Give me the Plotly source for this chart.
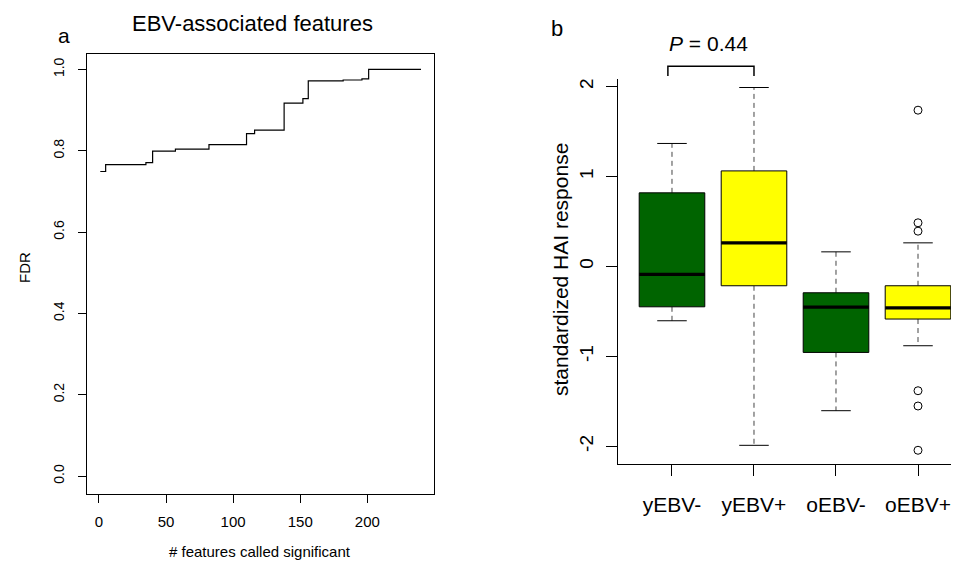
import plotly.graph_objects as go

# ---------------- data ----------------
# Panel a: step curve of FDR vs number of features called significant
n_features = [1, 5, 35, 40, 57, 82, 110, 116, 138, 152, 156, 182, 196, 201, 240]
fdr_values = [0.749, 0.766, 0.771, 0.799, 0.804, 0.815, 0.842, 0.851, 0.917,
              0.928, 0.972, 0.974, 0.977, 1.0, 1.0]
a_xticks = [0, 50, 100, 150, 200]
a_yticks = [0.0, 0.2, 0.4, 0.6, 0.8, 1.0]

# Panel b: box plot statistics
groups = ["yEBV-", "yEBV+", "oEBV-", "oEBV+"]
lower_whisker = [-0.604, -1.989, -1.604, -0.882]
q1 = [-0.449, -0.215, -0.956, -0.585]
median = [-0.089, 0.262, -0.452, -0.460]
q3 = [0.818, 1.062, -0.293, -0.215]
upper_whisker = [1.367, 1.989, 0.162, 0.262]
outliers = {"oEBV+": [1.737, 0.485, 0.392, -1.382, -1.552, -2.044]}
box_colors = ["#006400", "#FFFF00", "#006400", "#FFFF00"]
b_yticks = [-2, -1, 0, 1, 2]
bracket_groups = [0.95, 2.0]
bracket_levels = [2.114, 2.222]
p_text = "<i>P</i> = 0.44"

FONT = "Liberation Sans, Arial, sans-serif"
PAGE_W, PAGE_H = 959, 575
OFF = 8  # default page body margin
W, H = PAGE_W - OFF, PAGE_H - OFF

fig = go.Figure()

# ---------------- panel a ----------------
fig.add_trace(go.Scatter(
    x=n_features, y=fdr_values, mode="lines", line_shape="hv",
    line=dict(color="black", width=1.2), xaxis="x", yaxis="y",
    showlegend=False, hoverinfo="skip"))

# ---------------- panel b ----------------
hw = 0.4   # half box width
cw = 0.18  # half cap width
for i, g in enumerate(groups):
    xc = i + 1
    # whiskers (dashed)
    fig.add_trace(go.Scatter(
        x=[xc, xc, None, xc, xc],
        y=[q3[i], upper_whisker[i], None, q1[i], lower_whisker[i]],
        mode="lines", line=dict(color="#444444", width=1, dash="5px,4px"),
        xaxis="x2", yaxis="y2", showlegend=False, hoverinfo="skip"))
    # caps
    fig.add_trace(go.Scatter(
        x=[xc - cw, xc + cw, None, xc - cw, xc + cw],
        y=[upper_whisker[i], upper_whisker[i], None, lower_whisker[i], lower_whisker[i]],
        mode="lines", line=dict(color="black", width=1),
        xaxis="x2", yaxis="y2", showlegend=False, hoverinfo="skip"))
    # box
    fig.add_trace(go.Scatter(
        x=[xc - hw, xc + hw, xc + hw, xc - hw, xc - hw],
        y=[q1[i], q1[i], q3[i], q3[i], q1[i]],
        mode="lines", fill="toself", fillcolor=box_colors[i],
        line=dict(color="black", width=1), xaxis="x2", yaxis="y2",
        showlegend=False, hoverinfo="skip"))
    # median
    fig.add_trace(go.Scatter(
        x=[xc - hw, xc + hw], y=[median[i], median[i]], mode="lines",
        line=dict(color="black", width=3.2), xaxis="x2", yaxis="y2",
        showlegend=False, hoverinfo="skip"))
    # outliers
    if g in outliers:
        fig.add_trace(go.Scatter(
            x=[xc] * len(outliers[g]), y=outliers[g], mode="markers",
            marker=dict(symbol="circle-open", size=8, color="black",
                        line=dict(width=1)),
            xaxis="x2", yaxis="y2", showlegend=False, hoverinfo="skip"))

# significance bracket (on an invisible taller axis sharing the same scale)
fig.add_trace(go.Scatter(
    x=[bracket_groups[0], bracket_groups[0], bracket_groups[1], bracket_groups[1]],
    y=[bracket_levels[0], bracket_levels[1], bracket_levels[1], bracket_levels[0]],
    mode="lines", line=dict(color="black", width=1.5),
    xaxis="x2", yaxis="y3", showlegend=False, hoverinfo="skip"))

# ---------------- layout ----------------
def px_x(p):
    return (p - OFF) / W

def px_y(p):
    return 1 - (p - OFF) / H

axis_common = dict(showgrid=False, zeroline=False, showline=True,
                   linecolor="black", linewidth=1, ticks="outside",
                   tickcolor="black", tickwidth=1,
                   tickfont=dict(family=FONT, color="black"))

fig.update_layout(
    width=W, height=H, margin=dict(l=0, r=0, t=0, b=0),
    paper_bgcolor="white", plot_bgcolor="rgba(0,0,0,0)",
    font=dict(family=FONT, color="black"),
    xaxis=dict(**axis_common, domain=[px_x(87), px_x(434)], range=[-8.9, 249.7],
               tickvals=a_xticks, ticktext=[str(v) for v in a_xticks],
               ticklen=8, mirror=True, anchor="y",
               ticklabelstandoff=6, tickfont_size=15),
    yaxis=dict(**axis_common, domain=[px_y(493.5), px_y(54)], range=[-0.043, 1.038],
               tickvals=a_yticks, ticktext=[f"{v:.1f}" for v in a_yticks],
               ticklen=8, mirror=True, anchor="x", tickangle=-90,
               ticklabelstandoff=8, tickfont_size=14),
    xaxis2=dict(**axis_common, domain=[px_x(617.7), 1.0], range=[0.338, 4.5],
                tickvals=[1, 2, 3, 4], ticktext=groups, ticklen=11, anchor="y2",
                ticklabelstandoff=10, tickfont_size=21),
    yaxis2=dict(**axis_common, domain=[px_y(464.3), px_y(78.7)], range=[-2.2, 2.087],
                tickvals=b_yticks, ticktext=[str(v) for v in b_yticks],
                ticklen=11, anchor="x2", tickangle=-90,
                ticklabelstandoff=5, tickfont_size=19),
    yaxis3=dict(domain=[px_y(464.3), px_y(20)], range=[-2.2, (266.3 - 20) / 90],
                visible=False, anchor="x2", showgrid=False, zeroline=False),
)

annotations = [
    dict(text="EBV-associated features", x=px_x(252), y=px_y(23), xref="paper",
         yref="paper", showarrow=False, font=dict(size=22, family=FONT),
         xanchor="center", yanchor="middle"),
    dict(text="a", x=px_x(64), y=px_y(35), xref="paper", yref="paper",
         showarrow=False, font=dict(size=21, family=FONT),
         xanchor="center", yanchor="middle"),
    dict(text="FDR", x=px_x(24), y=px_y(268), xref="paper", yref="paper",
         showarrow=False, textangle=-90, font=dict(size=15, family=FONT),
         xanchor="center", yanchor="middle"),
    dict(text="# features called significant", x=px_x(260), y=px_y(551),
         xref="paper", yref="paper", showarrow=False,
         font=dict(size=15, family=FONT), xanchor="center", yanchor="middle"),
    dict(text="b", x=px_x(557), y=px_y(29), xref="paper", yref="paper",
         showarrow=False, font=dict(size=22, family=FONT),
         xanchor="center", yanchor="middle"),
    dict(text="standardized HAI response", x=px_x(560), y=px_y(270),
         xref="paper", yref="paper", showarrow=False, textangle=-90,
         font=dict(size=21, family=FONT), xanchor="center", yanchor="middle"),
    dict(text=p_text, x=1.45, y=2.48, xref="x2", yref="y3", showarrow=False,
         font=dict(size=21, family=FONT), xanchor="center", yanchor="middle"),
]
fig.update_layout(annotations=annotations)

fig.write_html("out.html")
